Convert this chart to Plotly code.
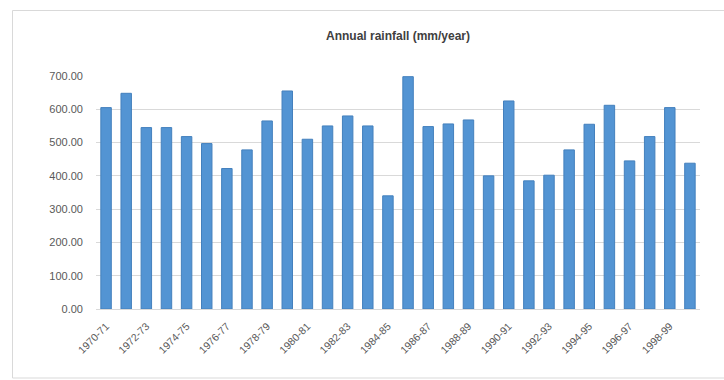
import plotly.graph_objects as go

# Annual rainfall by hydrological year
seasons = [
    "1970-71", "1971-72", "1972-73", "1973-74", "1974-75", "1975-76",
    "1976-77", "1977-78", "1978-79", "1979-80", "1980-81", "1981-82",
    "1982-83", "1983-84", "1984-85", "1985-86", "1986-87", "1987-88",
    "1988-89", "1989-90", "1990-91", "1991-92", "1992-93", "1993-94",
    "1994-95", "1995-96", "1996-97", "1997-98", "1998-99", "1999-00",
]
rainfall_mm = [
    605, 648, 545, 545, 518, 497,
    422, 478, 565, 655, 510, 550,
    580, 550, 340, 698, 548, 556,
    568, 400, 625, 385, 402, 478,
    555, 612, 445, 518, 605, 438,
]
# every second season is labelled on the axis
tick_labels = seasons[::2]
y_ticks = [0, 100, 200, 300, 400, 500, 600, 700]

fig = go.Figure(
    go.Bar(
        x=seasons,
        y=rainfall_mm,
        marker=dict(color="#5394D3", line=dict(color="#4480BD", width=1)),
        hoverinfo="x+y",
    )
)

W, H = 724, 380
L, R, T, B = 96, 24, 76, 71
pw, ph = W - L - R, H - T - B


def px_x(v):
    return (v - L) / pw


def px_y(v):
    return (H - B - v) / ph


fig.update_layout(
    width=W,
    height=H,
    margin=dict(l=L, r=R, t=T, b=B),
    paper_bgcolor="white",
    plot_bgcolor="white",
    showlegend=False,
    bargap=0.48,
    font=dict(family="Liberation Sans, Arial, sans-serif", size=11, color="#595959"),
    title=dict(
        text="<b>Annual rainfall (mm/year)</b>",
        x=0.5,
        xanchor="center",
        xref="paper",
        y=1 - 36 / H,
        yanchor="middle",
        font=dict(size=12, color="#404040"),
    ),
    xaxis=dict(
        type="category",
        tickmode="array",
        tickvals=tick_labels,
        ticktext=tick_labels,
        tickangle=-45,
        showgrid=False,
        showline=True,
        linecolor="#d9d9d9",
        ticks="",
        ticklabelstandoff=6,
        tickfont=dict(size=10.5, color="#595959"),
    ),
    yaxis=dict(
        range=[0, 700],
        tickmode="array",
        tickvals=y_ticks,
        tickformat=".2f",
        showgrid=True,
        gridcolor="#d9d9d9",
        gridwidth=1,
        zeroline=False,
        showline=False,
        ticks="",
        ticklabelstandoff=12,
        tickfont=dict(size=11, color="#595959"),
    ),
    shapes=[
        dict(
            type="rect",
            xref="paper",
            yref="paper",
            x0=px_x(12.5),
            x1=px_x(740),
            y0=px_y(378),
            y1=px_y(10.5),
            line=dict(color="#d9d9d9", width=1),
            fillcolor="rgba(0,0,0,0)",
            layer="below",
        )
    ],
)

fig.write_html("out.html")
